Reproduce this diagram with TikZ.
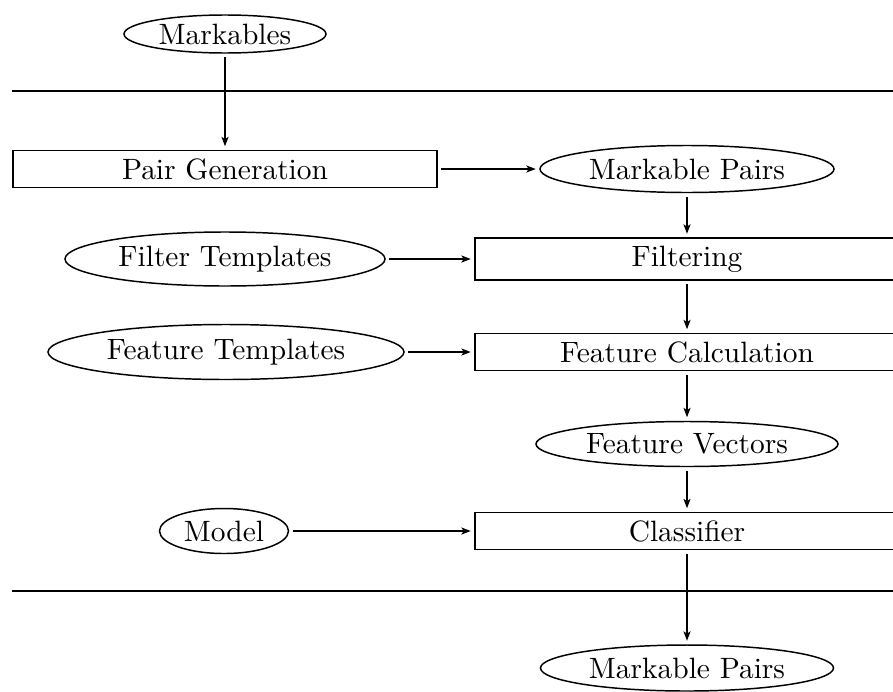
\documentclass[tikz,border=0pt]{standalone}
\usetikzlibrary{shapes.geometric,arrows.meta}
\begin{document}
\begin{tikzpicture}[x=0.34pt,y=-0.34pt,
  box/.style={draw, line width=0.5pt, rectangle, inner sep=0pt,
    minimum width=424*0.34pt, minimum height=37*0.34pt},
  oval/.style 2 args={draw, line width=0.5pt, ellipse, inner sep=0pt,
    minimum width=#1*0.34pt, minimum height=#2*0.34pt},
  flow/.style={-{Stealth[length=3.2pt,width=2.4pt,inset=0.8pt]}, line width=0.4pt,
    shorten <=1.2pt, shorten >=1.2pt},
  rule/.style={line width=0.6pt}]
  \clip (0,0) rectangle (893,691);

  % sources and stages
  \node[oval={202}{38}] (markables) at (225,34) {Markables};
  \node[box] (pairgen) at (225,169) {Pair Generation};
  \node[oval={294}{47}] (mpairs) at (687,169) {Markable Pairs};
  \node[box, minimum height=42*0.34pt] (filtering) at (687,259) {Filtering};
  \node[oval={320}{54}] (filtertpl) at (225,259) {Filter Templates};
  \node[box] (featcalc) at (687,352) {Feature Calculation};
  \node[oval={356}{55}] (feattpl) at (226,352) {Feature Templates};
  \node[oval={302}{45}] (fvec) at (687,444) {Feature Vectors};
  \node[box] (classifier) at (687,531) {Classifier};
  \node[oval={129}{45}] (model) at (224,531) {Model};
  \node[oval={293}{46}] (mpairsout) at (687,668) {Markable Pairs};

  % separating rules
  \coordinate (r1a) at (12,91);
  \coordinate (r1b) at (905,91);
  \coordinate (r2a) at (12,591);
  \coordinate (r2b) at (905,591);
  \draw[rule] (r1a) -- (r1b);
  \draw[rule] (r2a) -- (r2b);

  % data flow
  \draw[flow] (markables) -- (pairgen);
  \draw[flow] (pairgen) -- (mpairs);
  \draw[flow] (mpairs) -- (filtering);
  \draw[flow] (filtertpl) -- (filtering);
  \draw[flow] (filtering) -- (featcalc);
  \draw[flow] (feattpl) -- (featcalc);
  \draw[flow] (featcalc) -- (fvec);
  \draw[flow] (fvec) -- (classifier);
  \draw[flow] (model) -- (classifier);
  \draw[flow] (classifier) -- (mpairsout);
\end{tikzpicture}
\end{document}
